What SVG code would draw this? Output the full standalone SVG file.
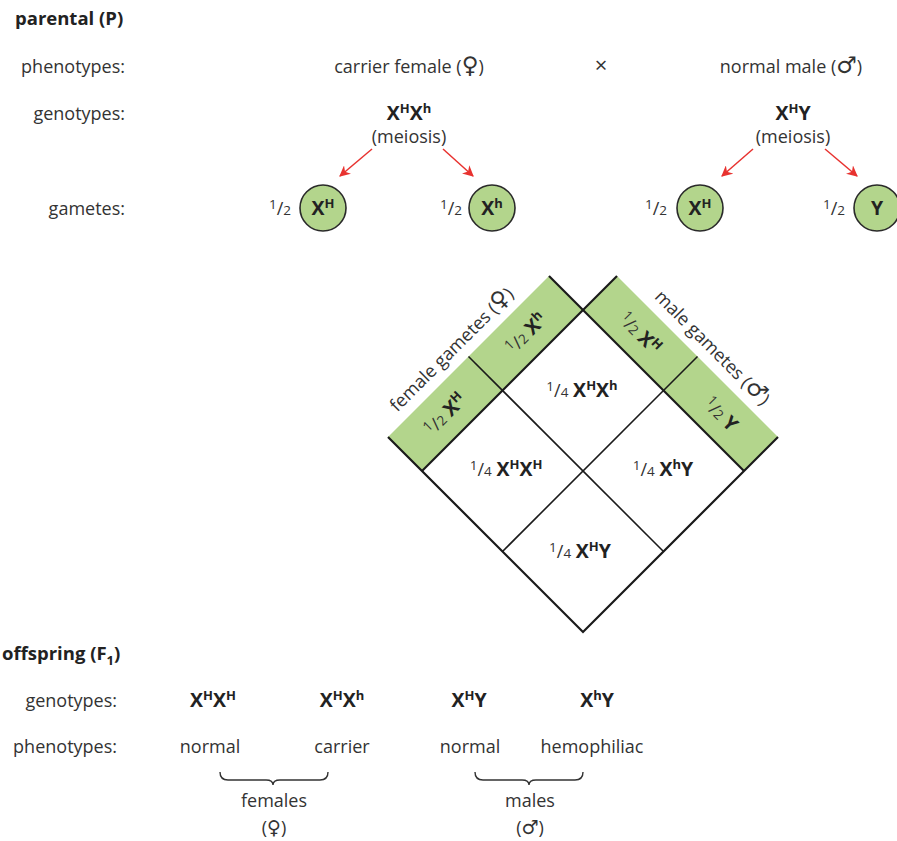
<svg xmlns="http://www.w3.org/2000/svg" width="897" height="841" viewBox="0 0 897 841">
<defs>
<style>
text{font-family:"Open Sans","DejaVu Sans",sans-serif;font-size:18px;fill:#333}
.b{font-weight:bold;fill:#222;font-size:19.5px}
.sup{font-size:13px;font-weight:bold;fill:#222}
.fs{font-size:13.5px}
.sym{font-family:"DejaVu Sans",sans-serif;font-size:23px}
.sym2{font-family:"DejaVu Sans",sans-serif;font-size:19px}
.green{fill:#b3d58c}
.cir{fill:#b3d58c;stroke:#2a2a2a;stroke-width:1.6}
.edge{stroke:#1a1a1a;stroke-width:2.2;fill:none}
.grid{stroke:#1a1a1a;stroke-width:1.6;fill:none}
.arr{stroke:#e8322f;stroke-width:1.5;fill:none;marker-end:url(#ah)}
.brace{stroke:#333;stroke-width:1.4;fill:none}
</style>
<marker id="ah" viewBox="0 0 10 10" refX="9" refY="5" markerWidth="11" markerHeight="11" markerUnits="userSpaceOnUse" orient="auto">
<path d="M0,0 L10,5 L0,10 L3,5 z" fill="#e8322f"/>
</marker>
</defs>

<g id="headers">
<text class="b" x="15" y="25" style="font-size:18.5px">parental (P)</text>
<text x="125" y="73" text-anchor="end">phenotypes:</text>
<text x="125" y="120" text-anchor="end">genotypes:</text>
<text x="125" y="215" text-anchor="end">gametes:</text>
<text class="b" x="2" y="660" style="font-size:18.5px">offspring (F<tspan font-size="13px" dy="5">1</tspan><tspan dy="-5">)</tspan></text>
<text x="117" y="707" text-anchor="end">genotypes:</text>
<text x="117" y="753" text-anchor="end">phenotypes:</text>
</g>

<g id="female-parent">
<text x="409" y="73" text-anchor="middle">carrier female (<tspan class="sym">♀</tspan>)</text>
<text class="b" x="409" y="120" text-anchor="middle">X<tspan class="sup" dy="-7">H</tspan><tspan dy="7">X</tspan><tspan class="sup" dy="-7">h</tspan></text>
<text x="409" y="143" text-anchor="middle">(meiosis)</text>
</g>
<g id="cross"><text x="601" y="73" text-anchor="middle" style="font-size:22px">×</text></g>
<g id="male-parent">
<text x="791" y="73" text-anchor="middle">normal male (<tspan class="sym">♂</tspan>)</text>
<text class="b" x="793" y="120" text-anchor="middle">X<tspan class="sup" dy="-7">H</tspan><tspan dy="7">Y</tspan></text>
<text x="793" y="143" text-anchor="middle">(meiosis)</text>
</g>

<g id="gamete-f1">
<text x="280" y="215" text-anchor="middle"><tspan class="fs" dy="-6">1</tspan><tspan dy="6">/</tspan><tspan class="fs">2</tspan></text>
<circle class="cir" cx="323" cy="208" r="23"/>
<text class="b" x="323" y="215" text-anchor="middle">X<tspan class="sup" dy="-7">H</tspan></text>
</g>
<g id="gamete-f2">
<text x="451" y="215" text-anchor="middle"><tspan class="fs" dy="-6">1</tspan><tspan dy="6">/</tspan><tspan class="fs">2</tspan></text>
<circle class="cir" cx="492" cy="208" r="23"/>
<text class="b" x="492" y="215" text-anchor="middle">X<tspan class="sup" dy="-7">h</tspan></text>
</g>
<g id="gamete-m1">
<text x="656" y="215" text-anchor="middle"><tspan class="fs" dy="-6">1</tspan><tspan dy="6">/</tspan><tspan class="fs">2</tspan></text>
<circle class="cir" cx="700" cy="208" r="23"/>
<text class="b" x="700" y="215" text-anchor="middle">X<tspan class="sup" dy="-7">H</tspan></text>
</g>
<g id="gamete-m2">
<text x="834" y="215" text-anchor="middle"><tspan class="fs" dy="-6">1</tspan><tspan dy="6">/</tspan><tspan class="fs">2</tspan></text>
<circle class="cir" cx="877" cy="208" r="23"/>
<text class="b" x="877" y="215" text-anchor="middle">Y</text>
</g>

<g id="connectors">
<line class="arr" x1="372" y1="149" x2="340" y2="176"/>
<line class="arr" x1="443" y1="149" x2="473" y2="176"/>
<line class="arr" x1="753" y1="149" x2="722" y2="176"/>
<line class="arr" x1="825" y1="149" x2="857" y2="176"/>
</g>

<g id="punnett">
<polygon class="green" points="388,437 549,276 583,310 422,471"/>
<polygon class="green" points="617,276 778,437 744,471 583,310"/>
<polyline class="edge" points="388,437 583,632 778,437"/>
<line class="edge" x1="549" y1="276" x2="744" y2="471"/>
<line class="edge" x1="617" y1="276" x2="422" y2="471"/>
<line class="grid" x1="468.5" y1="356.5" x2="663.5" y2="551.5"/>
<line class="grid" x1="697.5" y1="356.5" x2="502.5" y2="551.5"/>
</g>

<g id="female-gametes-label">
<text transform="translate(456,354) rotate(-45)" text-anchor="middle">female gametes (<tspan class="sym">♀</tspan>)</text>
</g>
<g id="male-gametes-label">
<text transform="translate(708,352) rotate(45)" text-anchor="middle">male gametes (<tspan class="sym">♂</tspan>)</text>
</g>

<g id="band-f-XH">
<text transform="translate(445,414) rotate(-45)" x="0" y="7" text-anchor="middle"><tspan class="fs" dy="-6">1</tspan><tspan dy="6">/</tspan><tspan class="fs">2</tspan> <tspan class="b">X</tspan><tspan class="sup" dy="-7">H</tspan></text>
</g>
<g id="band-f-Xh">
<text transform="translate(526,333) rotate(-45)" x="0" y="7" text-anchor="middle"><tspan class="fs" dy="-6">1</tspan><tspan dy="6">/</tspan><tspan class="fs">2</tspan> <tspan class="b">X</tspan><tspan class="sup" dy="-7">h</tspan></text>
</g>
<g id="band-m-XH">
<text transform="translate(640,333) rotate(45)" x="0" y="7" text-anchor="middle"><tspan class="fs" dy="-6">1</tspan><tspan dy="6">/</tspan><tspan class="fs">2</tspan> <tspan class="b">X</tspan><tspan class="sup" dy="-7">H</tspan></text>
</g>
<g id="band-m-Y">
<text transform="translate(721,414) rotate(45)" x="0" y="7" text-anchor="middle"><tspan class="fs" dy="-6">1</tspan><tspan dy="6">/</tspan><tspan class="fs">2</tspan> <tspan class="b">Y</tspan></text>
</g>

<g id="cell-top">
<text x="582" y="397" text-anchor="middle"><tspan class="fs" dy="-6">1</tspan><tspan dy="6">/</tspan><tspan class="fs">4</tspan> <tspan class="b">X</tspan><tspan class="sup" dy="-7">H</tspan><tspan class="b" dy="7">X</tspan><tspan class="sup" dy="-7">h</tspan></text>
</g>
<g id="cell-left">
<text x="506" y="476" text-anchor="middle"><tspan class="fs" dy="-6">1</tspan><tspan dy="6">/</tspan><tspan class="fs">4</tspan> <tspan class="b">X</tspan><tspan class="sup" dy="-7">H</tspan><tspan class="b" dy="7">X</tspan><tspan class="sup" dy="-7">H</tspan></text>
</g>
<g id="cell-right">
<text x="663" y="476" text-anchor="middle"><tspan class="fs" dy="-6">1</tspan><tspan dy="6">/</tspan><tspan class="fs">4</tspan> <tspan class="b">X</tspan><tspan class="sup" dy="-7">h</tspan><tspan class="b" dy="7">Y</tspan></text>
</g>
<g id="cell-bottom">
<text x="580" y="558" text-anchor="middle"><tspan class="fs" dy="-6">1</tspan><tspan dy="6">/</tspan><tspan class="fs">4</tspan> <tspan class="b">X</tspan><tspan class="sup" dy="-7">H</tspan><tspan class="b" dy="7">Y</tspan></text>
</g>

<g id="offspring-1">
<text class="b" x="213" y="707" text-anchor="middle">X<tspan class="sup" dy="-7">H</tspan><tspan dy="7">X</tspan><tspan class="sup" dy="-7">H</tspan></text>
<text x="210" y="753" text-anchor="middle">normal</text>
</g>
<g id="offspring-2">
<text class="b" x="342" y="707" text-anchor="middle">X<tspan class="sup" dy="-7">H</tspan><tspan dy="7">X</tspan><tspan class="sup" dy="-7">h</tspan></text>
<text x="342" y="753" text-anchor="middle">carrier</text>
</g>
<g id="offspring-3">
<text class="b" x="469" y="707" text-anchor="middle">X<tspan class="sup" dy="-7">H</tspan><tspan dy="7">Y</tspan></text>
<text x="470" y="753" text-anchor="middle">normal</text>
</g>
<g id="offspring-4">
<text class="b" x="597" y="707" text-anchor="middle">X<tspan class="sup" dy="-7">h</tspan><tspan dy="7">Y</tspan></text>
<text x="592" y="753" text-anchor="middle">hemophiliac</text>
</g>

<g id="females-group">
<path class="brace" d="M220,772 q0,8 8,8 H266 q7,0 7,5 q0,-5 7,-5 H320 q8,0 8,-8"/>
<text x="274" y="807" text-anchor="middle">females</text>
<text x="274" y="834" text-anchor="middle">(<tspan class="sym2">♀</tspan>)</text>
</g>
<g id="males-group">
<path class="brace" d="M475,772 q0,8 8,8 H522 q7,0 7,5 q0,-5 7,-5 H575 q8,0 8,-8"/>
<text x="530" y="807" text-anchor="middle">males</text>
<text x="530" y="834" text-anchor="middle">(<tspan class="sym2">♂</tspan>)</text>
</g>
</svg>
